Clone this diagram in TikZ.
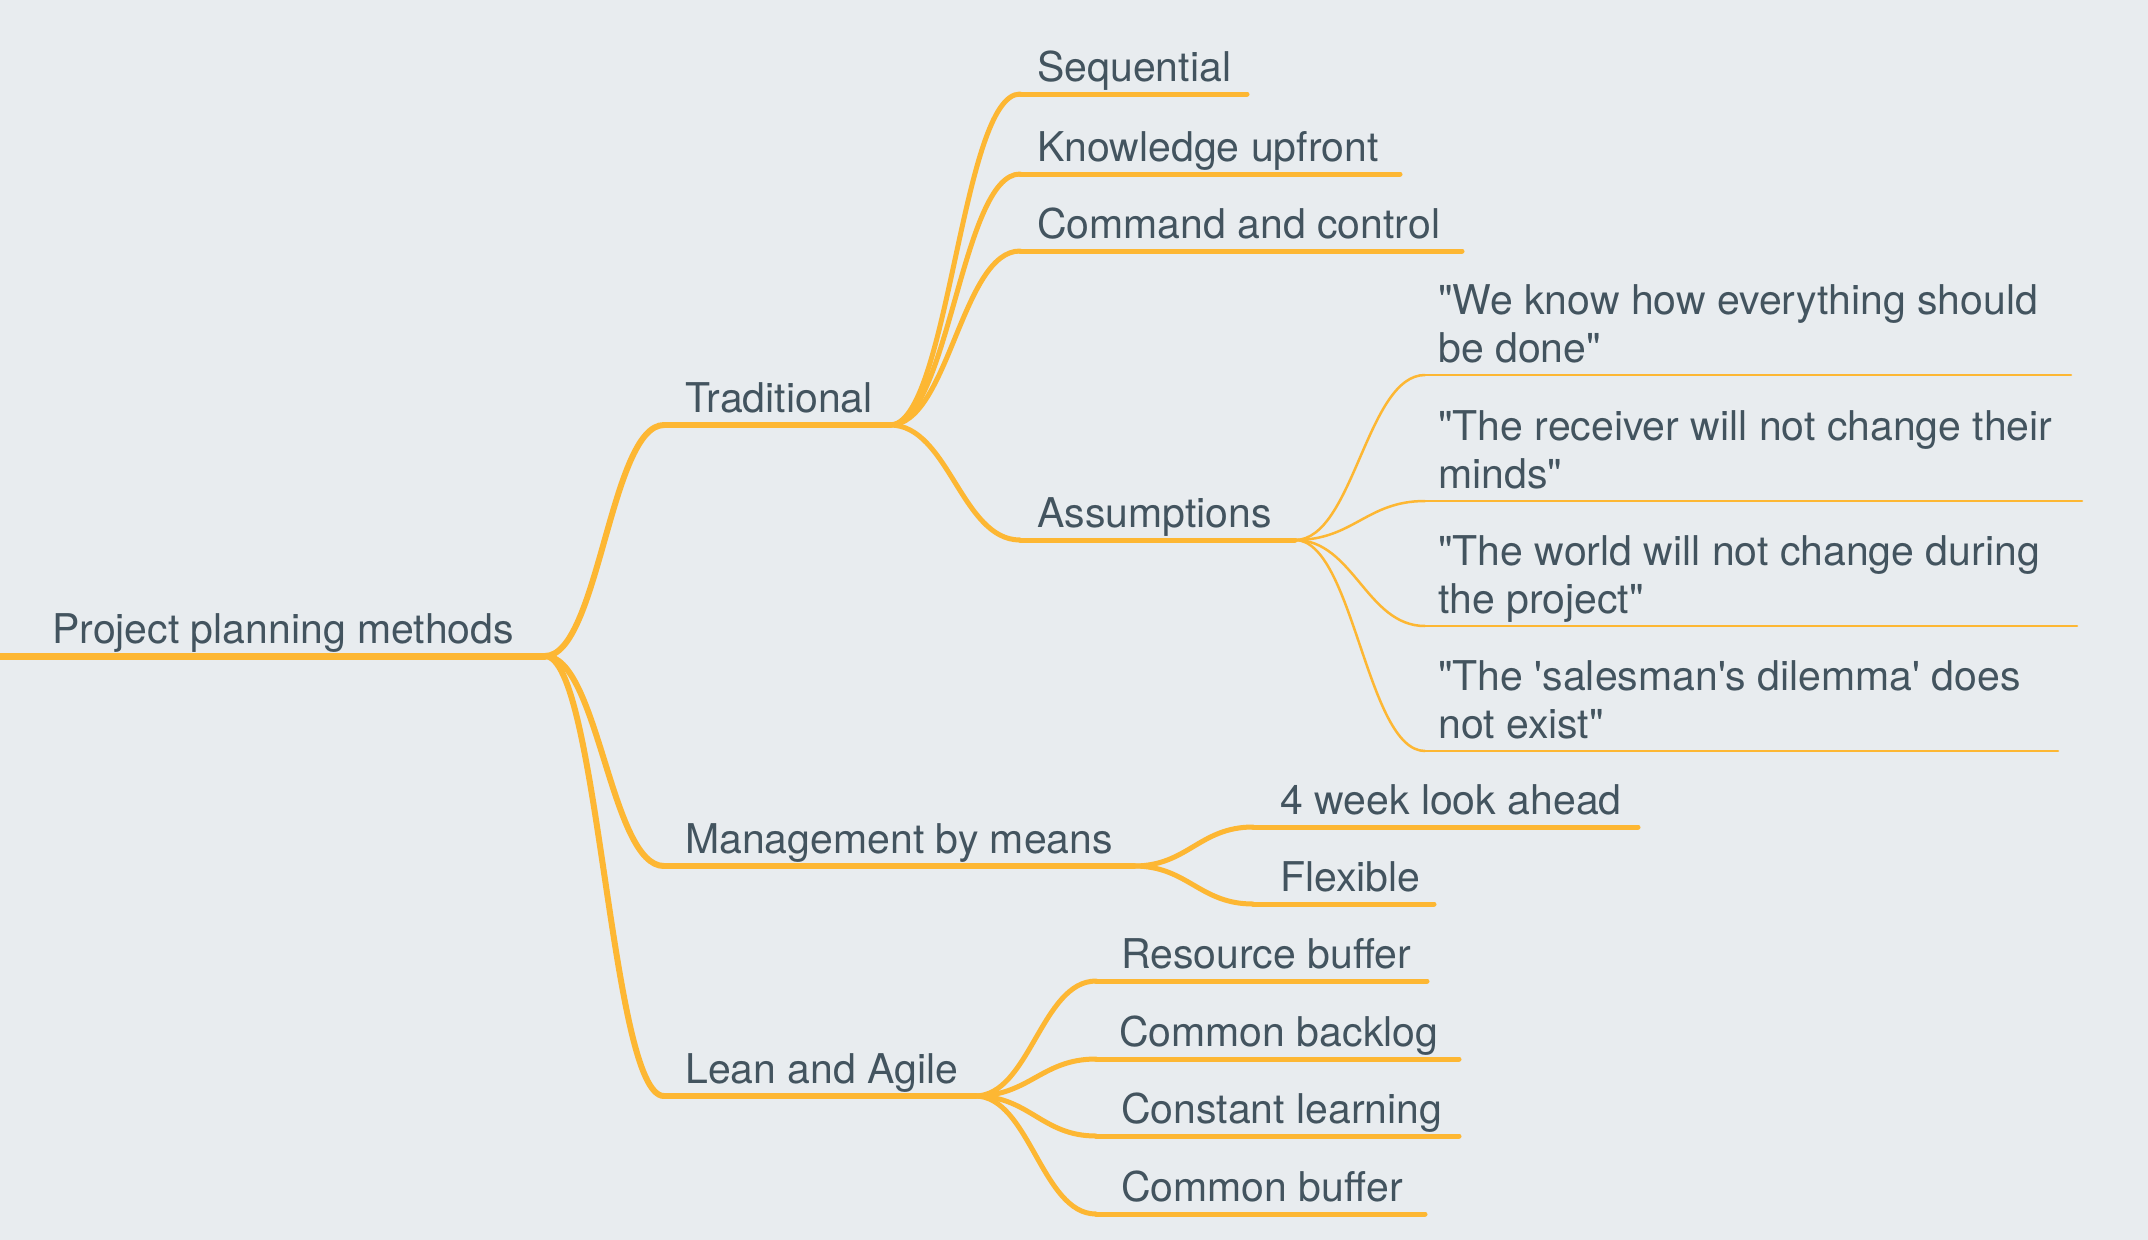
\documentclass[tikz,border=0pt]{standalone}
\usepackage{fontspec}
\newfontfamily\mmfont{TeX Gyre Heros}
\usetikzlibrary{calc}
\definecolor{bgc}{HTML}{E8ECEF}
\definecolor{linec}{HTML}{FDB733}
\definecolor{textc}{HTML}{43545F}
\newcommand\mmtopic[7]{%
  \coordinate (#1-s) at (#2,#4);
  \coordinate (#1-e) at (#3,#4);
  \draw[ul,line width=#5] (#1-s) -- (#1-e);
  \node[topic] (#1) at (#6,{#4-13}) {#7};}
\newcommand\mmlink[3]{%
  \draw[link,line width=#3] let \p1=(#1), \p2=(#2) in
    (\p1) .. controls ({\x1+0.45*(\x2-\x1)},\y1) and ({\x2-0.45*(\x2-\x1)},\y2) .. (\p2);}
\newcommand\twoline[2]{\begin{tabular}[b]{@{}l@{}}#1\\#2\end{tabular}}
\begin{document}
\begin{tikzpicture}[x=1pt,y=-1pt,
  topic/.style={font=\mmfont\fontsize{41}{48}\selectfont, text=textc, inner sep=0pt, anchor=base west},
  ul/.style={draw=linec, line cap=round},
  link/.style={draw=linec, line cap=round}]
\useasboundingbox[fill=bgc] (0,0) rectangle (2148,1240);
% topics
\mmtopic{root}{-10}{545}{656}{7pt}{52}{Project planning methods}
\mmtopic{trad}{664}{890}{425}{6pt}{685}{Traditional}
\mmtopic{seq}{1020}{1247}{94}{5pt}{1037}{Sequential}
\mmtopic{know}{1020}{1400}{174}{5pt}{1037}{Knowledge upfront}
\mmtopic{cmd}{1020}{1462}{251}{5pt}{1037}{Command and control}
\mmtopic{assu}{1020}{1295}{540}{5pt}{1037}{Assumptions}
\mmtopic{aone}{1425}{2071}{375}{2.5pt}{1438}{\twoline{"We know how everything should}{be done"}}
\mmtopic{atwo}{1425}{2082}{501}{2.5pt}{1438}{\twoline{"The receiver will not change their}{minds"}}
\mmtopic{athree}{1425}{2077}{626}{2.5pt}{1438}{\twoline{"The world will not change during}{the project"}}
\mmtopic{afour}{1425}{2058}{751}{2.5pt}{1438}{\twoline{"The 'salesman's dilemma' does}{not exist"}}
\mmtopic{mbm}{664}{1134}{866}{6pt}{685}{Management by means}
\mmtopic{look}{1253}{1638}{827}{5pt}{1280}{4 week look ahead}
\mmtopic{flex}{1253}{1434}{904}{5pt}{1280}{Flexible}
\mmtopic{lean}{664}{975}{1096}{6pt}{685}{Lean and Agile}
\mmtopic{res}{1096}{1427}{981}{5pt}{1121}{Resource buffer}
\mmtopic{back}{1096}{1459}{1059}{5pt}{1119}{Common backlog}
\mmtopic{learn}{1096}{1459}{1136}{5pt}{1121}{Constant learning}
\mmtopic{buf}{1096}{1425}{1214}{5pt}{1121}{Common buffer}
% links
\mmlink{root-e}{trad-s}{6pt}
\mmlink{root-e}{mbm-s}{6pt}
\mmlink{root-e}{lean-s}{6pt}
\mmlink{trad-e}{seq-s}{5pt}
\mmlink{trad-e}{know-s}{5pt}
\mmlink{trad-e}{cmd-s}{5pt}
\mmlink{trad-e}{assu-s}{5pt}
\mmlink{assu-e}{aone-s}{2.5pt}
\mmlink{assu-e}{atwo-s}{2.5pt}
\mmlink{assu-e}{athree-s}{2.5pt}
\mmlink{assu-e}{afour-s}{2.5pt}
\mmlink{mbm-e}{look-s}{5pt}
\mmlink{mbm-e}{flex-s}{5pt}
\mmlink{lean-e}{res-s}{5pt}
\mmlink{lean-e}{back-s}{5pt}
\mmlink{lean-e}{learn-s}{5pt}
\mmlink{lean-e}{buf-s}{5pt}
\end{tikzpicture}
\end{document}
